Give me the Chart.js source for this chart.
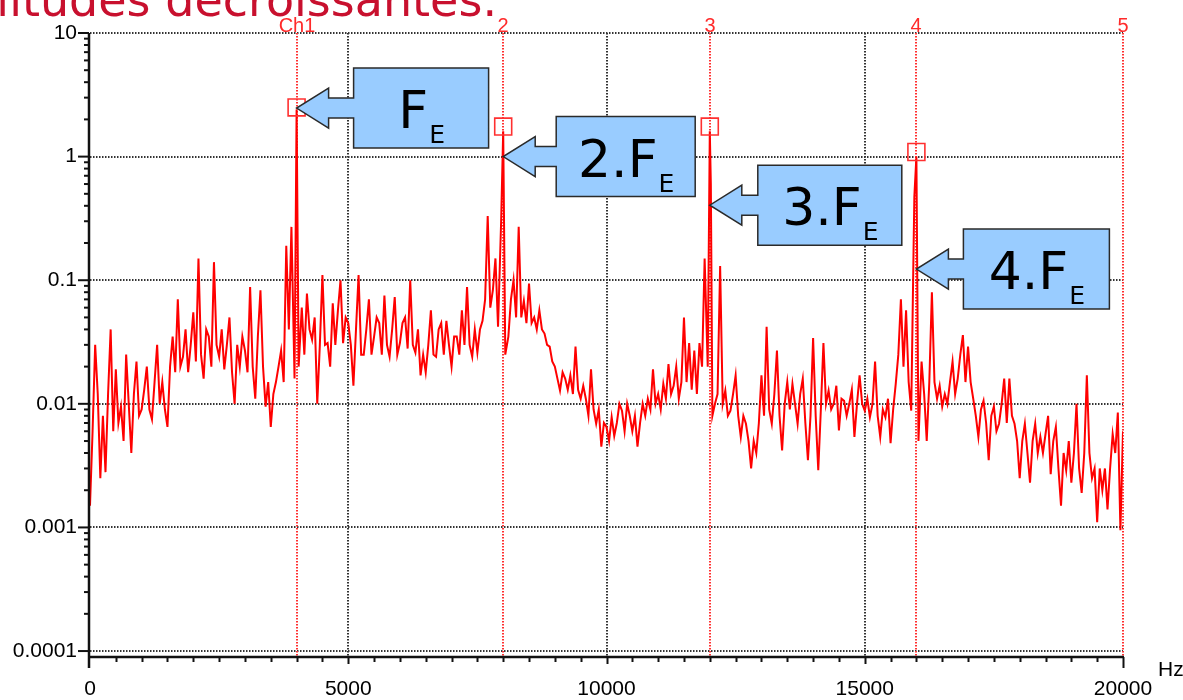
<!DOCTYPE html>
<html>
<head>
<meta charset="utf-8">
<script src="https://cdn.jsdelivr.net/npm/chart.js@4"></script>
<style>
  html, body { margin: 0; padding: 0; background: #fff; }
  canvas { display: block; }
</style>
</head>
<body>
<canvas id="spectrum" width="1183" height="700"></canvas>
<script>
// Spectrum (Hz / amplitude), one row per 1000 Hz
const freqs = [
    0, 50, 100, 150, 200, 250, 300, 350, 400, 450, 500, 550, 600, 650, 700, 750, 800, 850, 900, 950,
    1000, 1050, 1100, 1150, 1200, 1250, 1300, 1350, 1400, 1450, 1500, 1550, 1600, 1650, 1700, 1750, 1800, 1850, 1900, 1950,
    2000, 2050, 2100, 2150, 2200, 2250, 2300, 2350, 2400, 2450, 2500, 2550, 2600, 2650, 2700, 2750, 2800, 2850, 2900, 2950,
    3000, 3050, 3100, 3150, 3200, 3250, 3300, 3350, 3400, 3450, 3500, 3550, 3600, 3650, 3700, 3750, 3800, 3850, 3900, 3960,
    4000, 4040, 4100, 4150, 4200, 4250, 4300, 4350, 4400, 4450, 4500, 4550, 4600, 4650, 4700, 4750, 4800, 4850, 4900, 4950,
    5000, 5050, 5100, 5150, 5200, 5250, 5300, 5350, 5400, 5450, 5500, 5550, 5600, 5650, 5700, 5750, 5800, 5850, 5900, 5950,
    6000, 6050, 6100, 6150, 6200, 6250, 6300, 6350, 6400, 6450, 6500, 6550, 6600, 6650, 6700, 6750, 6800, 6850, 6900, 6950,
    7000, 7050, 7100, 7150, 7200, 7250, 7300, 7350, 7400, 7450, 7500, 7550, 7600, 7650, 7700, 7750, 7800, 7850, 7900, 7960,
    8000, 8040, 8100, 8150, 8200, 8250, 8300, 8350, 8400, 8450, 8500, 8550, 8600, 8650, 8700, 8750, 8800, 8850, 8900, 8950,
    9000, 9050, 9100, 9150, 9200, 9250, 9300, 9350, 9400, 9450, 9500, 9550, 9600, 9650, 9700, 9750, 9800, 9850, 9900, 9950,
    10000, 10050, 10100, 10150, 10200, 10250, 10300, 10350, 10400, 10450, 10500, 10550, 10600, 10650, 10700, 10750, 10800, 10850, 10900, 10950,
    11000, 11050, 11100, 11150, 11200, 11250, 11300, 11350, 11400, 11450, 11500, 11550, 11600, 11650, 11700, 11750, 11800, 11850, 11900, 11960,
    12000, 12020, 12050, 12100, 12150, 12200, 12250, 12300, 12350, 12400, 12450, 12500, 12550, 12600, 12650, 12700, 12750, 12800, 12850, 12900, 12950,
    13000, 13050, 13100, 13150, 13200, 13250, 13300, 13350, 13400, 13450, 13500, 13550, 13600, 13650, 13700, 13750, 13800, 13850, 13900, 13950,
    14000, 14050, 14100, 14150, 14200, 14250, 14300, 14350, 14400, 14450, 14500, 14550, 14600, 14650, 14700, 14750, 14800, 14850, 14900, 14950,
    15000, 15050, 15100, 15150, 15200, 15250, 15300, 15350, 15400, 15450, 15500, 15550, 15600, 15650, 15700, 15750, 15800, 15850, 15900, 15960,
    16000, 16040, 16100, 16150, 16200, 16250, 16300, 16350, 16400, 16450, 16500, 16550, 16600, 16650, 16700, 16750, 16800, 16850, 16900, 16950,
    17000, 17050, 17100, 17150, 17200, 17250, 17300, 17350, 17400, 17450, 17500, 17550, 17600, 17650, 17700, 17750, 17800, 17850, 17900, 17950,
    18000, 18050, 18100, 18150, 18200, 18250, 18300, 18350, 18400, 18450, 18500, 18550, 18600, 18650, 18700, 18750, 18800, 18850, 18900, 18950,
    19000, 19050, 19100, 19150, 19200, 19250, 19300, 19350, 19400, 19450, 19500, 19550, 19600, 19650, 19700, 19750, 19800, 19850, 19900, 19950, 20000
];
const amps = [
    0.0015, 0.006, 0.03, 0.012, 0.0025, 0.008, 0.0028, 0.012, 0.04, 0.006, 0.019, 0.007, 0.0095, 0.005, 0.025, 0.01, 0.004, 0.012, 0.022, 0.008,
    0.009, 0.013, 0.02, 0.009, 0.0075, 0.015, 0.03, 0.01, 0.015, 0.009, 0.0065, 0.02, 0.035, 0.018, 0.07, 0.02, 0.024, 0.04, 0.018, 0.03,
    0.055, 0.022, 0.15, 0.025, 0.016, 0.04, 0.035, 0.02, 0.14, 0.03, 0.024, 0.04, 0.019, 0.03, 0.05, 0.018, 0.01, 0.03, 0.02, 0.035,
    0.027, 0.018, 0.088, 0.02, 0.011, 0.035, 0.083, 0.02, 0.0095, 0.015, 0.0065, 0.012, 0.015, 0.02, 0.027, 0.015, 0.19, 0.04, 0.27, 0.016,
    2.4, 0.02, 0.06, 0.025, 0.078, 0.04, 0.033, 0.05, 0.01, 0.03, 0.11, 0.03, 0.031, 0.02, 0.065, 0.03, 0.057, 0.1, 0.031, 0.05,
    0.045, 0.03, 0.014, 0.04, 0.11, 0.025, 0.025, 0.04, 0.07, 0.025, 0.035, 0.05, 0.045, 0.025, 0.075, 0.03, 0.024, 0.04, 0.073, 0.025,
    0.031, 0.045, 0.05, 0.028, 0.1, 0.03, 0.026, 0.04, 0.017, 0.025, 0.018, 0.03, 0.057, 0.025, 0.024, 0.04, 0.045, 0.025, 0.047, 0.03,
    0.02, 0.035, 0.035, 0.025, 0.057, 0.03, 0.088, 0.03, 0.024, 0.04, 0.026, 0.04, 0.047, 0.07, 0.33, 0.06, 0.083, 0.15, 0.042, 0.3,
    1.6, 0.025, 0.035, 0.07, 0.1, 0.05, 0.27, 0.05, 0.068, 0.045, 0.094, 0.045, 0.05, 0.04, 0.057, 0.04, 0.037, 0.03, 0.029, 0.022,
    0.02, 0.016, 0.0128, 0.018, 0.016, 0.013, 0.017, 0.012, 0.029, 0.013, 0.011, 0.014, 0.011, 0.008, 0.019, 0.009, 0.0069, 0.009, 0.0045, 0.007,
    0.0065, 0.005, 0.0078, 0.0055, 0.007, 0.01, 0.0088, 0.006, 0.01, 0.008, 0.006, 0.008, 0.0045, 0.007, 0.01, 0.008, 0.011, 0.009, 0.019, 0.01,
    0.012, 0.009, 0.0145, 0.011, 0.021, 0.012, 0.014, 0.02, 0.011, 0.015, 0.05, 0.015, 0.031, 0.013, 0.027, 0.012, 0.031, 0.02, 0.15, 0.02,
    1.6, 0.6, 0.008, 0.01, 0.012, 0.13, 0.01, 0.0128, 0.008, 0.0088, 0.012, 0.017, 0.008, 0.0054, 0.008, 0.0069, 0.005, 0.003, 0.005, 0.004, 0.007,
    0.017, 0.008, 0.042, 0.009, 0.0069, 0.012, 0.027, 0.008, 0.0042, 0.01, 0.015, 0.009, 0.0145, 0.01, 0.0069, 0.012, 0.016, 0.007, 0.0035, 0.008,
    0.034, 0.008, 0.0029, 0.009, 0.031, 0.01, 0.0128, 0.009, 0.01, 0.014, 0.0061, 0.011, 0.0106, 0.008, 0.01, 0.013, 0.0054, 0.01, 0.017, 0.01,
    0.0088, 0.011, 0.0078, 0.01, 0.022, 0.008, 0.0054, 0.009, 0.0078, 0.011, 0.0048, 0.009, 0.0145, 0.025, 0.07, 0.02, 0.057, 0.015, 0.0088, 0.47,
    1.0, 0.005, 0.022, 0.012, 0.005, 0.015, 0.08, 0.015, 0.011, 0.014, 0.0095, 0.012, 0.01, 0.015, 0.022, 0.012, 0.016, 0.025, 0.036, 0.015,
    0.029, 0.015, 0.011, 0.008, 0.0054, 0.009, 0.0106, 0.007, 0.0035, 0.008, 0.0095, 0.006, 0.0069, 0.01, 0.016, 0.007, 0.016, 0.008, 0.0069, 0.005,
    0.0025, 0.005, 0.0069, 0.004, 0.0023, 0.005, 0.0069, 0.004, 0.0054, 0.004, 0.0057, 0.008, 0.0027, 0.005, 0.0065, 0.003, 0.0015, 0.004, 0.0029, 0.005,
    0.0023, 0.004, 0.01, 0.003, 0.0019, 0.004, 0.017, 0.004, 0.0025, 0.003, 0.0011, 0.003, 0.002, 0.003, 0.0014, 0.003, 0.0057, 0.004, 0.0085, 0.00095, 0.006
];

// cursor markers (red squares) and cursor lines
const markerFreqs = [4000, 8000, 12000, 16000];
const markerAmps = [2.5, 1.75, 1.75, 1.09];
const cursorFreqs = [4000, 8000, 12000, 16000, 20000];
const cursorLabels = ['Ch1', '2', '3', '4', '5'];

// axis ticks
const yTicks = [0.0001, 0.001, 0.01, 0.1, 1, 10];
const yTickLabels = ['0.0001', '0.001', '0.01', '0.1', '1', '10'];
const xTicks = [0, 5000, 10000, 15000, 20000];

// callout arrows: where each one points and its text (main + subscript)
const arrowFreqs = [4000, 8000, 12000, 16000];
const arrowAmps = [2.47, 1.0, 0.405, 0.123];
const arrowLabels = ['F', '2.F', '3.F', '4.F'];
const arrowSub = 'E';

// box geometry (pixels) for each callout
const calloutBoxes = [
    { gap: 57, w: 135 },
    { gap: 53, w: 139 },
    { gap: 48, w: 144 },
    { gap: 47, w: 146 }
];

const TICK_FONT = "'Liberation Sans', Arial, sans-serif";

function hLine(ctx, x1, x2, y) {
    ctx.beginPath();
    ctx.moveTo(x1, y);
    ctx.lineTo(x2, y);
    ctx.stroke();
}

function vLine(ctx, x, y1, y2) {
    ctx.beginPath();
    ctx.moveTo(x, y1);
    ctx.lineTo(x, y2);
    ctx.stroke();
}

function drawCallout(ctx, tx, ty, box, label) {
    const bl = tx + box.gap, br = bl + box.w;
    const top = ty - 40, bot = ty + 40;
    const hx = tx + 32;

    ctx.beginPath();
    ctx.moveTo(bl, top);
    ctx.lineTo(br, top);
    ctx.lineTo(br, bot);
    ctx.lineTo(bl, bot);
    ctx.lineTo(bl, ty + 10);
    ctx.lineTo(hx, ty + 10);
    ctx.lineTo(hx, ty + 20);
    ctx.lineTo(tx, ty);
    ctx.lineTo(hx, ty - 20);
    ctx.lineTo(hx, ty - 10);
    ctx.lineTo(bl, ty - 10);
    ctx.closePath();
    ctx.fillStyle = '#99ccff';
    ctx.fill();
    ctx.lineWidth = 1.5;
    ctx.strokeStyle = '#2a2a2a';
    ctx.stroke();

    // text, centred in the box
    const mainFont = "52px 'DejaVu Sans', Verdana, sans-serif";
    const subFont = "25px 'DejaVu Sans', Verdana, sans-serif";
    ctx.font = mainFont;
    const mw = ctx.measureText(label).width;
    ctx.font = subFont;
    const sw = ctx.measureText(arrowSub).width;
    const start = bl + (box.w - mw - sw) / 2;
    ctx.fillStyle = '#000';
    ctx.textAlign = 'left';
    ctx.textBaseline = 'alphabetic';
    ctx.font = mainFont;
    ctx.fillText(label, start, top + 60);
    ctx.font = subFont;
    ctx.fillText(arrowSub, start + mw + 1, top + 75);
}

// grid, cursors, axes, ticks and callouts in the analyser's style
const scopeDecor = {
    id: 'scopeDecor',
    beforeDatasetsDraw(chart) {
        const { ctx, chartArea: a, scales: { x, y } } = chart;
        ctx.save();
        ctx.lineWidth = 2;
        ctx.setLineDash([1.5, 1.5]);
        ctx.strokeStyle = '#333';
        yTicks.forEach(v => {
            const py = Math.round(y.getPixelForValue(v));
            hLine(ctx, a.left, a.right, py);
        });
        xTicks.slice(1, -1).forEach(v => {
            const px = Math.round(x.getPixelForValue(v));
            vLine(ctx, px, a.top, a.bottom);
        });

        // red cursor lines + labels
        ctx.strokeStyle = '#ff3030';
        ctx.fillStyle = '#ff2a2a';
        ctx.font = "20px 'Liberation Sans Narrow', 'Liberation Sans', sans-serif";
        ctx.textAlign = 'center';
        ctx.textBaseline = 'alphabetic';
        cursorFreqs.forEach((f, i) => {
            const px = Math.round(x.getPixelForValue(f));
            vLine(ctx, px, a.top, a.bottom);
            ctx.fillText(cursorLabels[i], px, a.top - 1);
        });
        ctx.restore();
    },
    afterDraw(chart) {
        const { ctx, chartArea: a, scales: { x, y } } = chart;
        ctx.save();

        // axes
        ctx.strokeStyle = '#111';
        ctx.lineWidth = 2.5;
        vLine(ctx, a.left - 1, a.top, a.bottom + 11);
        hLine(ctx, a.left - 1, a.right + 1, a.bottom);

        // y ticks: decades long, 2..9 short
        ctx.lineWidth = 2;
        yTicks.forEach(v => {
            const py = y.getPixelForValue(v);
            hLine(ctx, a.left - 12, a.left - 1, py);
            if (v < 10) {
                for (let m = 2; m <= 9; m++) {
                    const pm = y.getPixelForValue(v * m);
                    hLine(ctx, a.left - 6, a.left - 1, pm);
                }
            }
        });

        // x ticks every 500 Hz
        for (let f = 500; f <= 20000; f += 500) {
            const px = Math.round(x.getPixelForValue(f)) + 0.5;
            let len = 5;
            if (f % 5000 === 0) len = 7;
            if (f === 20000) len = 11;
            vLine(ctx, px, a.bottom, a.bottom + len);
        }

        // unit
        ctx.fillStyle = '#000';
        ctx.font = '21px ' + TICK_FONT;
        ctx.textAlign = 'left';
        ctx.textBaseline = 'alphabetic';
        ctx.fillText('Hz', a.right + 35, a.bottom + 19);

        // callouts
        arrowFreqs.forEach((f, i) => {
            const tx = x.getPixelForValue(f);
            const ty = y.getPixelForValue(arrowAmps[i]);
            drawCallout(ctx, tx, ty, calloutBoxes[i], arrowLabels[i]);
        });

        // slide title, cut off at the top edge
        ctx.fillStyle = '#c8102e';
        ctx.font = "46px 'DejaVu Sans', Verdana, sans-serif";
        ctx.textAlign = 'right';
        ctx.textBaseline = 'alphabetic';
        ctx.fillText('amplitudes d\u00e9croissantes.', 497, 16);

        ctx.restore();
    }
};

new Chart(document.getElementById('spectrum'), {
    type: 'line',
    data: {
        datasets: [
            {
                label: 'cursors',
                data: markerFreqs.map((f, i) => ({ x: f, y: markerAmps[i] })),
                showLine: false,
                pointStyle: 'rect',
                pointRadius: 12,
                pointBorderWidth: 1.6,
                pointBorderColor: '#ff3030',
                pointBackgroundColor: 'rgba(0, 0, 0, 0)'
            },
            {
                label: 'Ch1',
                data: freqs.map((f, i) => ({ x: f, y: amps[i] })),
                borderColor: '#ff0000',
                borderWidth: 2,
                pointRadius: 0,
                tension: 0,
                fill: false
            }
        ]
    },
    options: {
        responsive: false,
        animation: false,
        events: [],
        layout: { padding: { top: 33, right: 60, left: 0, bottom: 0 } },
        plugins: {
            legend: { display: false },
            tooltip: { enabled: false }
        },
        scales: {
            x: {
                type: 'linear',
                min: 0,
                max: 20000,
                grid: { display: false, drawTicks: false },
                border: { display: false },
                ticks: {
                    autoSkip: false,
                    maxRotation: 0,
                    padding: 20,
                    color: '#000',
                    font: { family: TICK_FONT, size: 21 },
                    callback: (v) => String(v)
                },
                afterBuildTicks: (s) => { s.ticks = xTicks.map(v => ({ value: v })); },
                afterFit: (s) => { s.height = 43; s.paddingLeft = 0; s.paddingRight = 0; }
            },
            y: {
                type: 'logarithmic',
                min: 0.0000895,
                max: 10,
                grid: { display: false, drawTicks: false },
                border: { display: false },
                ticks: {
                    autoSkip: false,
                    padding: 13,
                    color: '#000',
                    font: { family: TICK_FONT, size: 21 },
                    callback: (v) => {
                        const i = yTicks.indexOf(v);
                        return i >= 0 ? yTickLabels[i] : '';
                    }
                },
                afterBuildTicks: (s) => { s.ticks = yTicks.map(v => ({ value: v })); },
                afterFit: (s) => { s.width = 90; s.paddingTop = 0; s.paddingBottom = 0; }
            }
        }
    },
    plugins: [scopeDecor]
});
</script>
</body>
</html>
